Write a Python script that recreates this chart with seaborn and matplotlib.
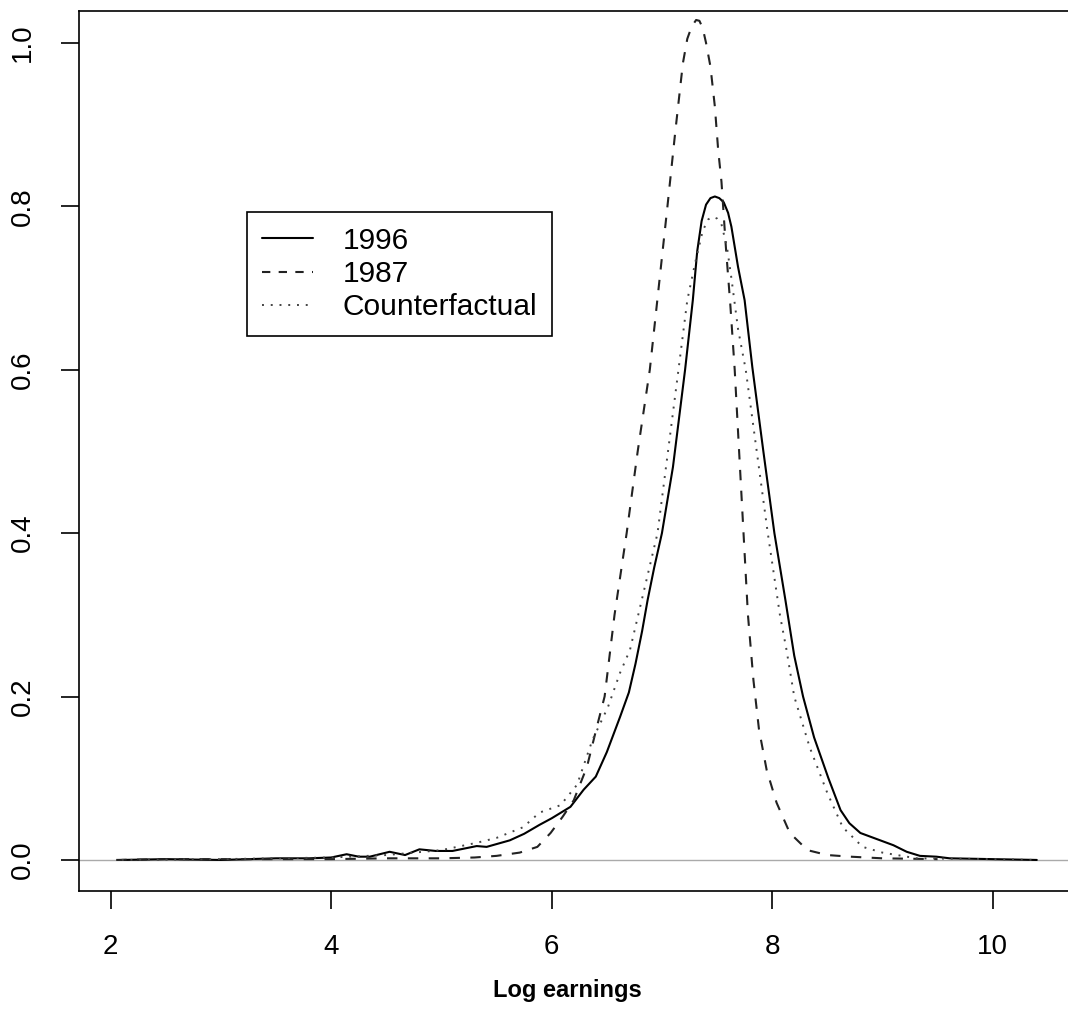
import matplotlib
matplotlib.use('Agg')
import matplotlib.pyplot as plt
import seaborn as sns
from matplotlib.lines import Line2D

# 1996 density (solid)
x_1996 = [2.1, 2.5, 3.0, 3.5, 3.8, 4.0, 4.14, 4.25, 4.35, 4.53, 4.67, 4.80, 4.95,
          5.10, 5.32, 5.41, 5.62, 5.75, 5.89, 6.0, 6.17, 6.29, 6.40, 6.50, 6.62,
          6.70, 6.76, 6.82, 6.87, 6.93, 7.0, 7.10, 7.21, 7.28, 7.32, 7.36, 7.40,
          7.44, 7.48, 7.52, 7.56, 7.60, 7.63, 7.69, 7.75, 7.82, 7.92, 8.02, 8.12,
          8.20, 8.28, 8.38, 8.51, 8.62, 8.70, 8.80, 8.90, 8.98, 9.10, 9.22, 9.34,
          9.49, 9.61, 10.0, 10.4]
y_1996 = [0.000, 0.001, 0.000, 0.002, 0.002, 0.003, 0.007, 0.004, 0.004, 0.010, 0.006, 0.013, 0.011,
          0.011, 0.017, 0.016, 0.024, 0.032, 0.043, 0.051, 0.065, 0.086, 0.102, 0.132, 0.175,
          0.205, 0.240, 0.280, 0.318, 0.358, 0.400, 0.481, 0.600, 0.685, 0.745, 0.782, 0.802,
          0.810, 0.812, 0.810, 0.805, 0.792, 0.775, 0.726, 0.685, 0.603, 0.500, 0.400, 0.318,
          0.250, 0.200, 0.150, 0.100, 0.061, 0.045, 0.033, 0.028, 0.024, 0.018, 0.010, 0.005,
          0.004, 0.002, 0.001, 0.000]

# 1987 density (dashed)
x_1987 = [2.05, 2.5, 3.0, 3.5, 4.0, 4.5, 5.0, 5.3, 5.5, 5.71, 5.87, 5.99, 6.10, 6.20,
          6.32, 6.41, 6.48, 6.57, 6.68, 6.78, 6.89, 6.97, 7.05, 7.12, 7.19, 7.23,
          7.27, 7.31, 7.34, 7.37, 7.40, 7.44, 7.48, 7.51, 7.54, 7.58, 7.62, 7.66,
          7.70, 7.74, 7.78, 7.83, 7.88, 7.95, 8.04, 8.16, 8.32, 8.50, 8.71, 9.0, 9.5]
y_1987 = [0.000, 0.001, 0.001, 0.001, 0.001, 0.002, 0.002, 0.003, 0.005, 0.009, 0.016, 0.033, 0.053, 0.073,
          0.114, 0.163, 0.200, 0.300, 0.400, 0.500, 0.600, 0.700, 0.800, 0.890, 0.975, 1.005,
          1.020, 1.028, 1.027, 1.018, 1.000, 0.971, 0.922, 0.869, 0.830, 0.750, 0.680, 0.600,
          0.500, 0.400, 0.300, 0.220, 0.160, 0.110, 0.070, 0.033, 0.012, 0.006, 0.004, 0.002, 0.001]

# Counterfactual density (dotted)
x_cf = [2.1, 3.0, 4.0, 4.5, 5.0, 5.32, 5.50, 5.74, 5.89, 6.08, 6.23, 6.37, 6.51, 6.62,
        6.71, 6.78, 6.96, 7.15, 7.23, 7.30, 7.37, 7.42, 7.46, 7.50, 7.54, 7.59, 7.63,
        7.69, 7.76, 7.86, 7.96, 8.07, 8.13, 8.20, 8.34, 8.50, 8.64, 8.82, 9.0, 9.31,
        10.0, 10.4]
y_cf = [0.000, 0.001, 0.003, 0.006, 0.012, 0.021, 0.027, 0.040, 0.058, 0.067, 0.092, 0.147, 0.187, 0.229,
        0.257, 0.297, 0.400, 0.600, 0.685, 0.730, 0.770, 0.784, 0.787, 0.785, 0.778, 0.750, 0.712,
        0.650, 0.600, 0.500, 0.400, 0.300, 0.257, 0.200, 0.138, 0.082, 0.040, 0.016, 0.009, 0.002,
        0.001, 0.000]

x_ticks = [2, 4, 6, 8, 10]
y_ticks = [0.0, 0.2, 0.4, 0.6, 0.8, 1.0]
labels = ['1996', '1987', 'Counterfactual']

sns.set_theme(style='white')
plt.rcParams['font.family'] = ['Liberation Sans', 'DejaVu Sans']
plt.rcParams['text.color'] = 'black'

fig = plt.figure(figsize=(10.68, 10.10), dpi=100)
ax = fig.add_axes([79 / 1068, 119 / 1010, (1080 - 79) / 1068, 880 / 1010])

ax.axhline(0, color='#aaaaaa', lw=1.0, zorder=1)

sns.lineplot(x=x_1996, y=y_1996, ax=ax, color='black', lw=1.5, sort=False)
sns.lineplot(x=x_1987, y=y_1987, ax=ax, color='#222222', lw=1.5, sort=False,
             linestyle=(0, (5, 5)))
sns.lineplot(x=x_cf, y=y_cf, ax=ax, color='#444444', lw=1.4, sort=False,
             linestyle=(0, (1, 3.5)))

ax.set_xlim(1.7125, 10.792)
ax.set_ylim(-0.038, 1.039)
ax.set_xticks(x_ticks)
ax.set_xticklabels([str(t) for t in x_ticks])
ax.set_yticks(y_ticks)
ax.set_yticklabels([f'{t:.1f}' for t in y_ticks], rotation=90, va='center')
ax.tick_params(axis='both', which='major', labelsize=20, length=13, width=1.2,
               direction='out', color='black', labelcolor='black', pad=18)
ax.tick_params(left=True, bottom=True)
for side in ['left', 'bottom', 'top', 'right']:
    ax.spines[side].set_color('black')
    ax.spines[side].set_linewidth(1.2)
ax.set_xlabel('')
ax.set_ylabel('')

fig.text(567 / 1068, 1 - 990 / 1010, 'Log earnings', ha='center', va='center',
         fontsize=17, fontweight='bold', color='black')

handles = [Line2D([], [], color='black', lw=1.5),
           Line2D([], [], color='#222222', lw=1.5, linestyle=(0, (4, 4))),
           Line2D([], [], color='#444444', lw=1.4, linestyle=(0, (1, 3.5)))]
leg = fig.legend(handles, labels, loc='upper left',
                 bbox_to_anchor=(247 / 1068, 1 - 212 / 1010), bbox_transform=fig.transFigure,
                 fontsize=21.5, frameon=True, fancybox=False, framealpha=1, edgecolor='black',
                 borderpad=0.5, borderaxespad=0, handlelength=1.7, handletextpad=1.0,
                 labelspacing=0.17)
leg.get_frame().set_linewidth(1.2)
for t in leg.get_texts():
    t.set_color('black')

fig.savefig('out.png', dpi=100)
